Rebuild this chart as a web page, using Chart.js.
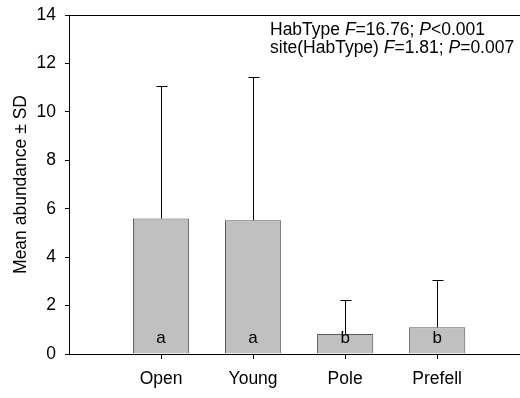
<!DOCTYPE html>
<html>
<head>
<meta charset="utf-8">
<script src="https://cdn.jsdelivr.net/npm/chart.js@4.4.1/dist/chart.umd.min.js"></script>
<style>
  html, body { margin: 0; padding: 0; background: #fff; }
  #wrap { position: relative; width: 520px; height: 398px; }
</style>
</head>
<body>
<div id="wrap"><canvas id="chart"></canvas></div>
<script>
const habitats = ["Open", "Young", "Pole", "Prefell"];
const meanAbundance = [5.6, 5.52, 0.83, 1.1];
const sdAbundance = [5.47, 5.93, 1.4, 1.95];
const groupLetters = ["a", "a", "b", "b"];
const yTicks = [0, 2, 4, 6, 8, 10, 12, 14];

// stats lines: [text, italic?] runs
const statLines = [
  [["HabType ", false], ["F", true], ["=16.76; ", false], ["P", true], ["<0.001", false]],
  [["site(HabType) ", false], ["F", true], ["=1.81; ", false], ["P", true], ["=0.007", false]],
];

const FONT = 'Arial, "Liberation Sans", sans-serif';
const FS = 17.5;

const errorBars = {
  id: "errorBars",
  afterDatasetsDraw(chart) {
    const { ctx } = chart;
    const y = chart.scales.y;
    const meta = chart.getDatasetMeta(0);
    ctx.save();
    ctx.strokeStyle = "#000";
    ctx.lineWidth = 1;
    meta.data.forEach((bar, i) => {
      const x = Math.round(bar.x) + 0.5;
      const top = Math.round(y.getPixelForValue(meanAbundance[i] + sdAbundance[i])) + 0.5;
      const base = y.getPixelForValue(meanAbundance[i]);
      ctx.beginPath();
      ctx.moveTo(x, base);
      ctx.lineTo(x, top);
      ctx.moveTo(x - 5, top);
      ctx.lineTo(x + 6, top);
      ctx.stroke();
    });
    // group letters near the base of each bar
    ctx.fillStyle = "#000";
    ctx.font = "17px " + FONT;
    ctx.textAlign = "center";
    ctx.textBaseline = "alphabetic";
    meta.data.forEach((bar, i) => {
      ctx.fillText(groupLetters[i], bar.x, chart.chartArea.bottom - 11);
    });
    // stats text
    ctx.textAlign = "left";
    statLines.forEach((runs, li) => {
      let x = 270;
      const yy = 35 + li * 18;
      runs.forEach(([t, it]) => {
        ctx.font = (it ? "italic " : "") + FS + "px " + FONT;
        ctx.fillText(t, x, yy);
        x += ctx.measureText(t).width;
      });
    });
    ctx.restore();
  },
};

new Chart(document.getElementById("chart"), {
  type: "bar",
  data: {
    datasets: [{
      data: meanAbundance.map((v, i) => ({ x: i + 1, y: v })),
      backgroundColor: "#c0c0c0",
      borderColor: "#5a5a5a",
      borderWidth: 1,
      barPercentage: 0.61,
      categoryPercentage: 1,
    }],
  },
  options: {
    responsive: true,
    maintainAspectRatio: false,
    animation: false,
    layout: { padding: 0 },
    plugins: { legend: { display: false }, tooltip: { enabled: false } },
    scales: {
      x: {
        type: "linear",
        min: 0,
        max: 4.9,
        offset: false,
        afterBuildTicks: (axis) => {
          axis.ticks = habitats.map((_, i) => ({ value: i + 1 }));
        },
        afterFit: (axis) => { axis.height = 44; },
        ticks: {
          callback: (v) => habitats[v - 1] || "",
          color: "#000",
          font: { family: FONT, size: FS },
          padding: 10,
          maxRotation: 0,
          autoSkip: false,
        },
        grid: { drawOnChartArea: false, offset: false, tickLength: 5, color: "#000" },
        border: { color: "#000", width: 1 },
      },
      x2: {
        type: "linear",
        position: "top",
        min: 0,
        max: 4.9,
        ticks: { display: false },
        grid: { display: false, drawTicks: false },
        border: { color: "#000", width: 1 },
        afterFit: (axis) => { axis.height = 15; },
      },
      y: {
        min: 0,
        max: 14,
        afterBuildTicks: (axis) => {
          axis.ticks = yTicks.map((v) => ({ value: v }));
        },
        afterFit: (axis) => { axis.width = 69; },
        ticks: {
          color: "#000",
          font: { family: FONT, size: FS, lineHeight: 0.6 },
          padding: 9,
        },
        grid: { drawOnChartArea: false, tickLength: 4, color: "#000" },
        border: { color: "#000", width: 1 },
        title: {
          display: true,
          text: "Mean abundance ± SD",
          color: "#000",
          font: { family: FONT, size: FS },
          padding: { top: 11, bottom: 0 },
        },
      },
    },
  },
  plugins: [errorBars],
});
</script>
</body>
</html>
